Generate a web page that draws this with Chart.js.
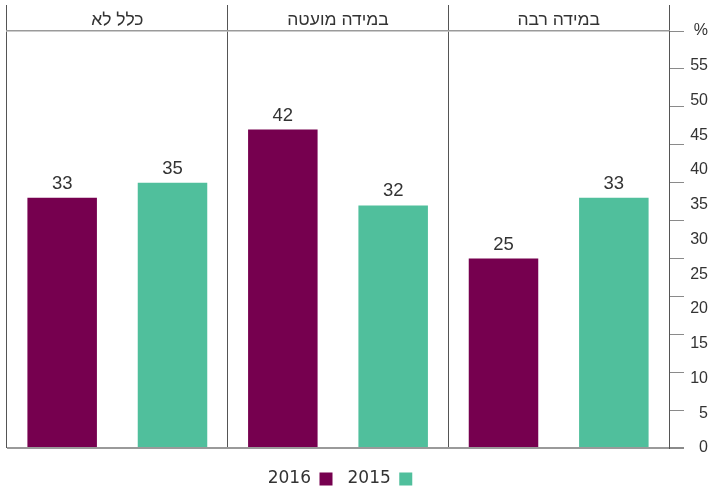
<!DOCTYPE html>
<html>
<head>
<meta charset="utf-8">
<script src="https://cdn.jsdelivr.net/npm/chart.js@4/dist/chart.umd.min.js"></script>
<style>
  html, body { margin: 0; padding: 0; background: #ffffff; }
  #wrap { width: 712px; height: 490px; }
</style>
</head>
<body>
<div id="wrap"><canvas id="chart" width="712" height="490"></canvas></div>
<script>
// Answer categories, left to right
const categories = ['כלל לא', 'במידה מועטה', 'במידה רבה'];
// Share of respondents, percent
const values2016 = [33, 42, 25];
const values2015 = [35, 32, 33];
const seriesNames = ['2016', '2015'];
// Labels printed beside the right-hand axis
const tickLabels = ['0', '5', '10', '15', '20', '25', '30', '35', '40', '45', '50', '55', '%'];

const COLOR_2016 = '#76004f';
const COLOR_2015 = '#50bf9c';
const TEXT = '#333333';
const FONT = '"Liberation Sans", Arial, "DejaVu Sans", sans-serif';

// Writes each bar's value just above it
const barValueLabels = {
  id: 'barValueLabels',
  afterDatasetsDraw(chart) {
    const ctx = chart.ctx;
    ctx.save();
    ctx.font = '18.5px ' + FONT;
    ctx.fillStyle = TEXT;
    ctx.textAlign = 'center';
    ctx.textBaseline = 'middle';
    chart.data.datasets.forEach((ds, i) => {
      chart.getDatasetMeta(i).data.forEach((bar, j) => {
        ctx.fillText(String(ds.data[j]), bar.x, bar.y - 14);
      });
    });
    ctx.restore();
  }
};

// Category names in the header band above the plot, centred on each column
const headerLabels = {
  id: 'headerLabels',
  afterDraw(chart) {
    const scale = chart.scales.x;
    const ctx = chart.ctx;
    ctx.save();
    ctx.font = '17.5px ' + FONT;
    ctx.fillStyle = TEXT;
    ctx.textAlign = 'center';
    ctx.textBaseline = 'middle';
    ctx.direction = 'rtl';
    chart.data.labels.forEach((label, i) => {
      ctx.fillText(label, scale.getPixelForTick(i), chart.chartArea.top - 11);
    });
    ctx.restore();
  }
};

// Centres the legend row under the plot area
const legendNudge = {
  id: 'legendNudge',
  afterLayout(chart) {
    if (chart.legend) {
      chart.legend.left += 2;
      chart.legend.right += 2;
    }
  }
};

new Chart(document.getElementById('chart'), {
  type: 'bar',
  data: {
    labels: categories,
    datasets: [
      {
        label: seriesNames[0],
        data: values2016,
        backgroundColor: COLOR_2016,
        xAxisID: 'x',
        yAxisID: 'y',
        categoryPercentage: 1.0,
        barPercentage: 0.63
      },
      {
        label: seriesNames[1],
        data: values2015,
        backgroundColor: COLOR_2015,
        xAxisID: 'x',
        yAxisID: 'y',
        categoryPercentage: 1.0,
        barPercentage: 0.63
      }
    ]
  },
  options: {
    responsive: false,
    devicePixelRatio: 1,
    animation: false,
    layout: { padding: { left: 7, right: 4, top: 5, bottom: -7.5 } },
    scales: {
      x: {
        position: 'top',
        offset: true,
        grid: {
          offset: true,
          color: '#555555',
          lineWidth: 1,
          drawTicks: true,
          tickLength: 26,
          tickColor: '#555555'
        },
        border: { display: true, color: '#9a9a9a', width: 1.5 },
        ticks: { display: false },
        afterFit(scale) { scale.height = 26; }
      },
      xb: {
        type: 'category',
        position: 'bottom',
        weight: 0,
        grid: { display: false, drawTicks: false },
        border: { display: false },
        ticks: { display: false },
        afterFit(scale) { scale.height = 7.5; }
      },
      y: {
        position: 'right',
        weight: 0,
        min: 0,
        max: 55,
        grid: {
          color: (c) => (c.tick && c.tick.value === 0 ? '#9a9a9a' : 'rgba(0,0,0,0)'),
          lineWidth: (c) => (c.tick && c.tick.value === 0 ? 2 : 1),
          tickColor: '#8a8a8a',
          tickLength: 15,
          drawTicks: true
        },
        border: { display: true, color: '#555555', width: 1 },
        ticks: { display: false, stepSize: 5 },
        afterFit(scale) { scale.width = 15; }
      },
      yl: {
        position: 'right',
        weight: 1,
        min: 0,
        max: 60,
        grid: { display: false, drawTicks: false },
        border: { display: false },
        ticks: {
          stepSize: 5,
          padding: 6,
          crossAlign: 'far',
          color: TEXT,
          font: { family: FONT, size: 16 },
          callback: (v, i) => tickLabels[i]
        },
        afterFit(scale) { scale.width = 24; }
      }
    },
    plugins: {
      legend: {
        position: 'bottom',
        fullSize: false,
        rtl: true,
        reverse: true,
        labels: {
          boxWidth: 13,
          boxHeight: 13,
          padding: 15,
          color: TEXT,
          font: { family: '"DejaVu Sans", ' + FONT, size: 17 }
        }
      },
      tooltip: { enabled: false }
    }
  },
  plugins: [barValueLabels, headerLabels, legendNudge]
});
</script>
</body>
</html>
